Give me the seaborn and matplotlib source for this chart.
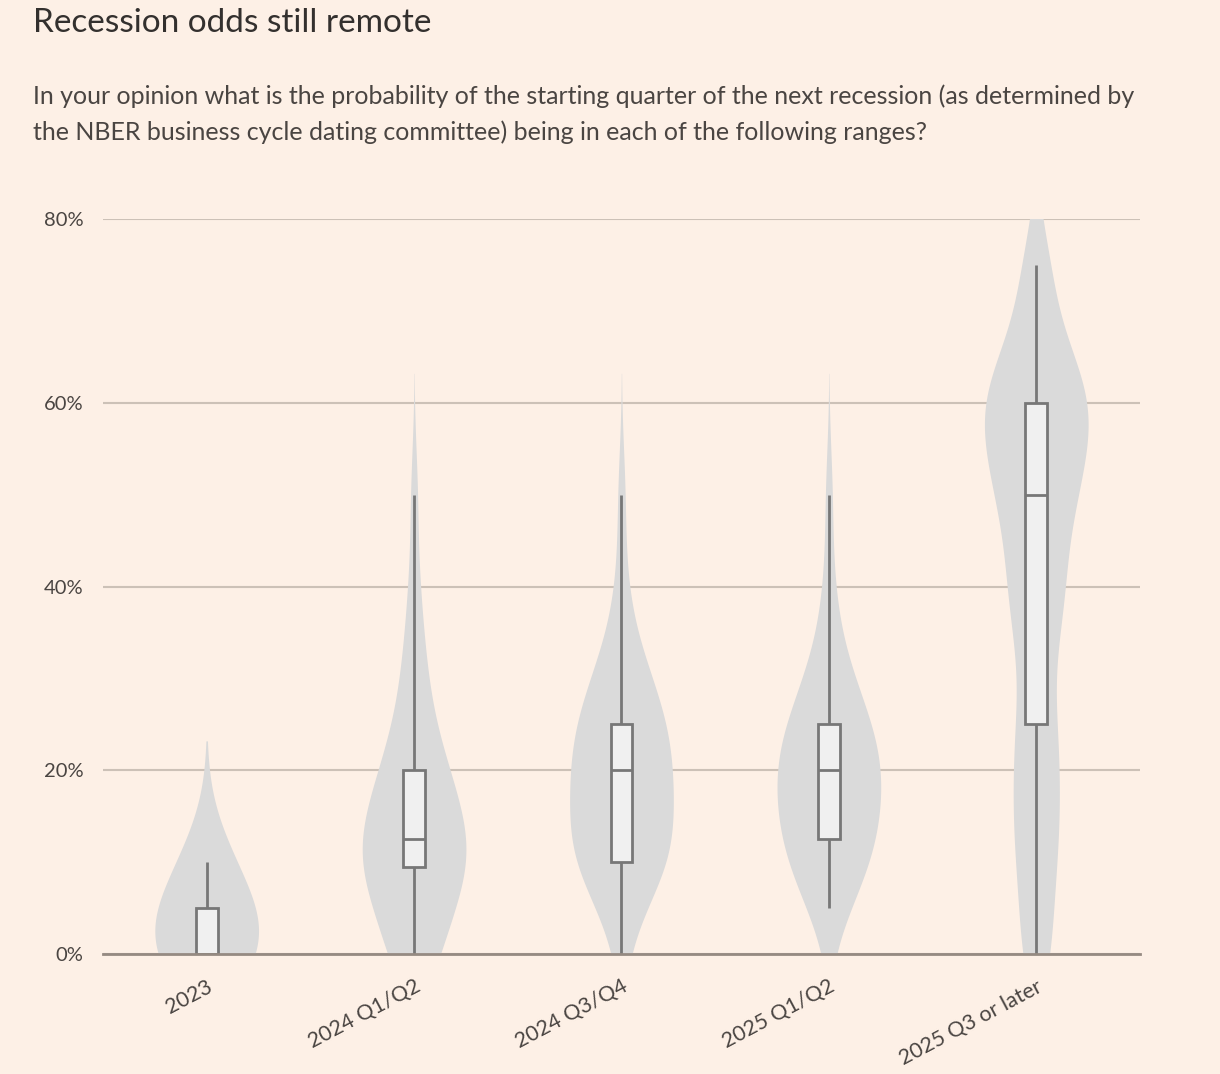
import numpy as np
import pandas as pd
import matplotlib
matplotlib.use("Agg")
import matplotlib.pyplot as plt
import seaborn as sns

# =============================================================================
# Survey responses (probability %, one value per economist)
# =============================================================================
categories = ["2023", "2024 Q1/Q2", "2024 Q3/Q4", "2025 Q1/Q2", "2025 Q3 or later"]

resp_2023 = [0] * 19 + [5] * 10 + [10] * 7
resp_2024_h1 = [0, 0, 0, 0, 0, 5, 5, 5, 8] + [10] * 9 + [15] * 6 + [20] * 5 + [25, 25, 30, 30, 35, 40, 50]
resp_2024_h2 = [0, 5] + [10] * 9 + [15] * 5 + [20] * 7 + [25] * 6 + [30] * 4 + [35, 40, 50]
resp_2025_h1 = [5, 5] + [10] * 7 + [15] * 6 + [20] * 8 + [25] * 6 + [30, 30, 30, 35, 40, 50]
resp_2025_later = ([0, 0, 5, 10, 10, 15, 15, 20, 20, 25, 25, 30, 35, 35, 40, 40, 40, 45, 45]
                   + [50] * 4 + [55] * 4 + [60] * 6 + [65] * 3 + [70] + [75] * 2)

responses = [resp_2023, resp_2024_h1, resp_2024_h2, resp_2025_h1, resp_2025_later]

y_ticks = [0, 20, 40, 60, 80]
y_ticklabels = ["0%", "20%", "40%", "60%", "80%"]

df = pd.concat([pd.DataFrame({"period": c, "prob": r}) for c, r in zip(categories, responses)])

# =============================================================================
# Plot
# =============================================================================
BG = "#fdf0e6"
TXT = "#33302e"
BW = 5.5  # same kernel bandwidth (in % points) for every violin

sns.set_theme(style="white")
plt.rcParams["font.family"] = ["Lato", "DejaVu Sans"]

fig = plt.figure(figsize=(12.2, 10.74), dpi=100, facecolor=BG)
ax = fig.add_axes([0.0844, 0.1117, 0.85, 0.6844])
ax.set_facecolor(BG)

sns.violinplot(data=df, x="period", y="prob", order=categories,
               color="#dadada", linewidth=0, inner=None, cut=2.4, gridsize=300,
               density_norm="width", width=0.5, saturation=1,
               bw_method=lambda k: BW / np.std(k.dataset, ddof=1), ax=ax)

sns.boxplot(data=df, x="period", y="prob", order=categories,
            width=0.105, whis=(0, 100), showcaps=False, showfliers=False,
            boxprops=dict(facecolor="#f0f0f0", edgecolor="#777777", linewidth=2),
            whiskerprops=dict(color="#777777", linewidth=2),
            medianprops=dict(color="#777777", linewidth=2),
            ax=ax)

ax.set_xlim(-0.5, len(categories) - 0.5)
ax.set_ylim(0, 80)
ax.set_yticks(y_ticks)
ax.set_yticklabels(y_ticklabels)
ax.yaxis.grid(True, color="#ccc1b7", linewidth=1.5)
ax.set_axisbelow(True)
for s in ["top", "right", "left"]:
    ax.spines[s].set_visible(False)
ax.spines["bottom"].set_color("#958a82")
ax.spines["bottom"].set_linewidth(2)
ax.spines["bottom"].set_zorder(5)

ax.tick_params(axis="y", length=0, pad=14, labelsize=14.5, labelcolor="#4a4542")
ax.tick_params(axis="x", length=12, width=1.2, color="#a89d95", pad=4,
               labelsize=15.5, labelcolor="#4a4542")
plt.setp(ax.get_xticklabels(), rotation=28, ha="right", rotation_mode="anchor")
ax.set_xlabel("")
ax.set_ylabel("")

fig.text(0.027, 0.979, "Recession odds still remote", fontsize=24, color=TXT,
         ha="left", va="center")
fig.text(0.027, 0.910,
         "In your opinion what is the probability of the starting quarter of the next recession (as determined by",
         fontsize=18, color="#4a4542", ha="left", va="center")
fig.text(0.027, 0.877,
         "the NBER business cycle dating committee) being in each of the following ranges?",
         fontsize=18, color="#4a4542", ha="left", va="center")

fig.savefig("out.png", dpi=100, facecolor=BG)
